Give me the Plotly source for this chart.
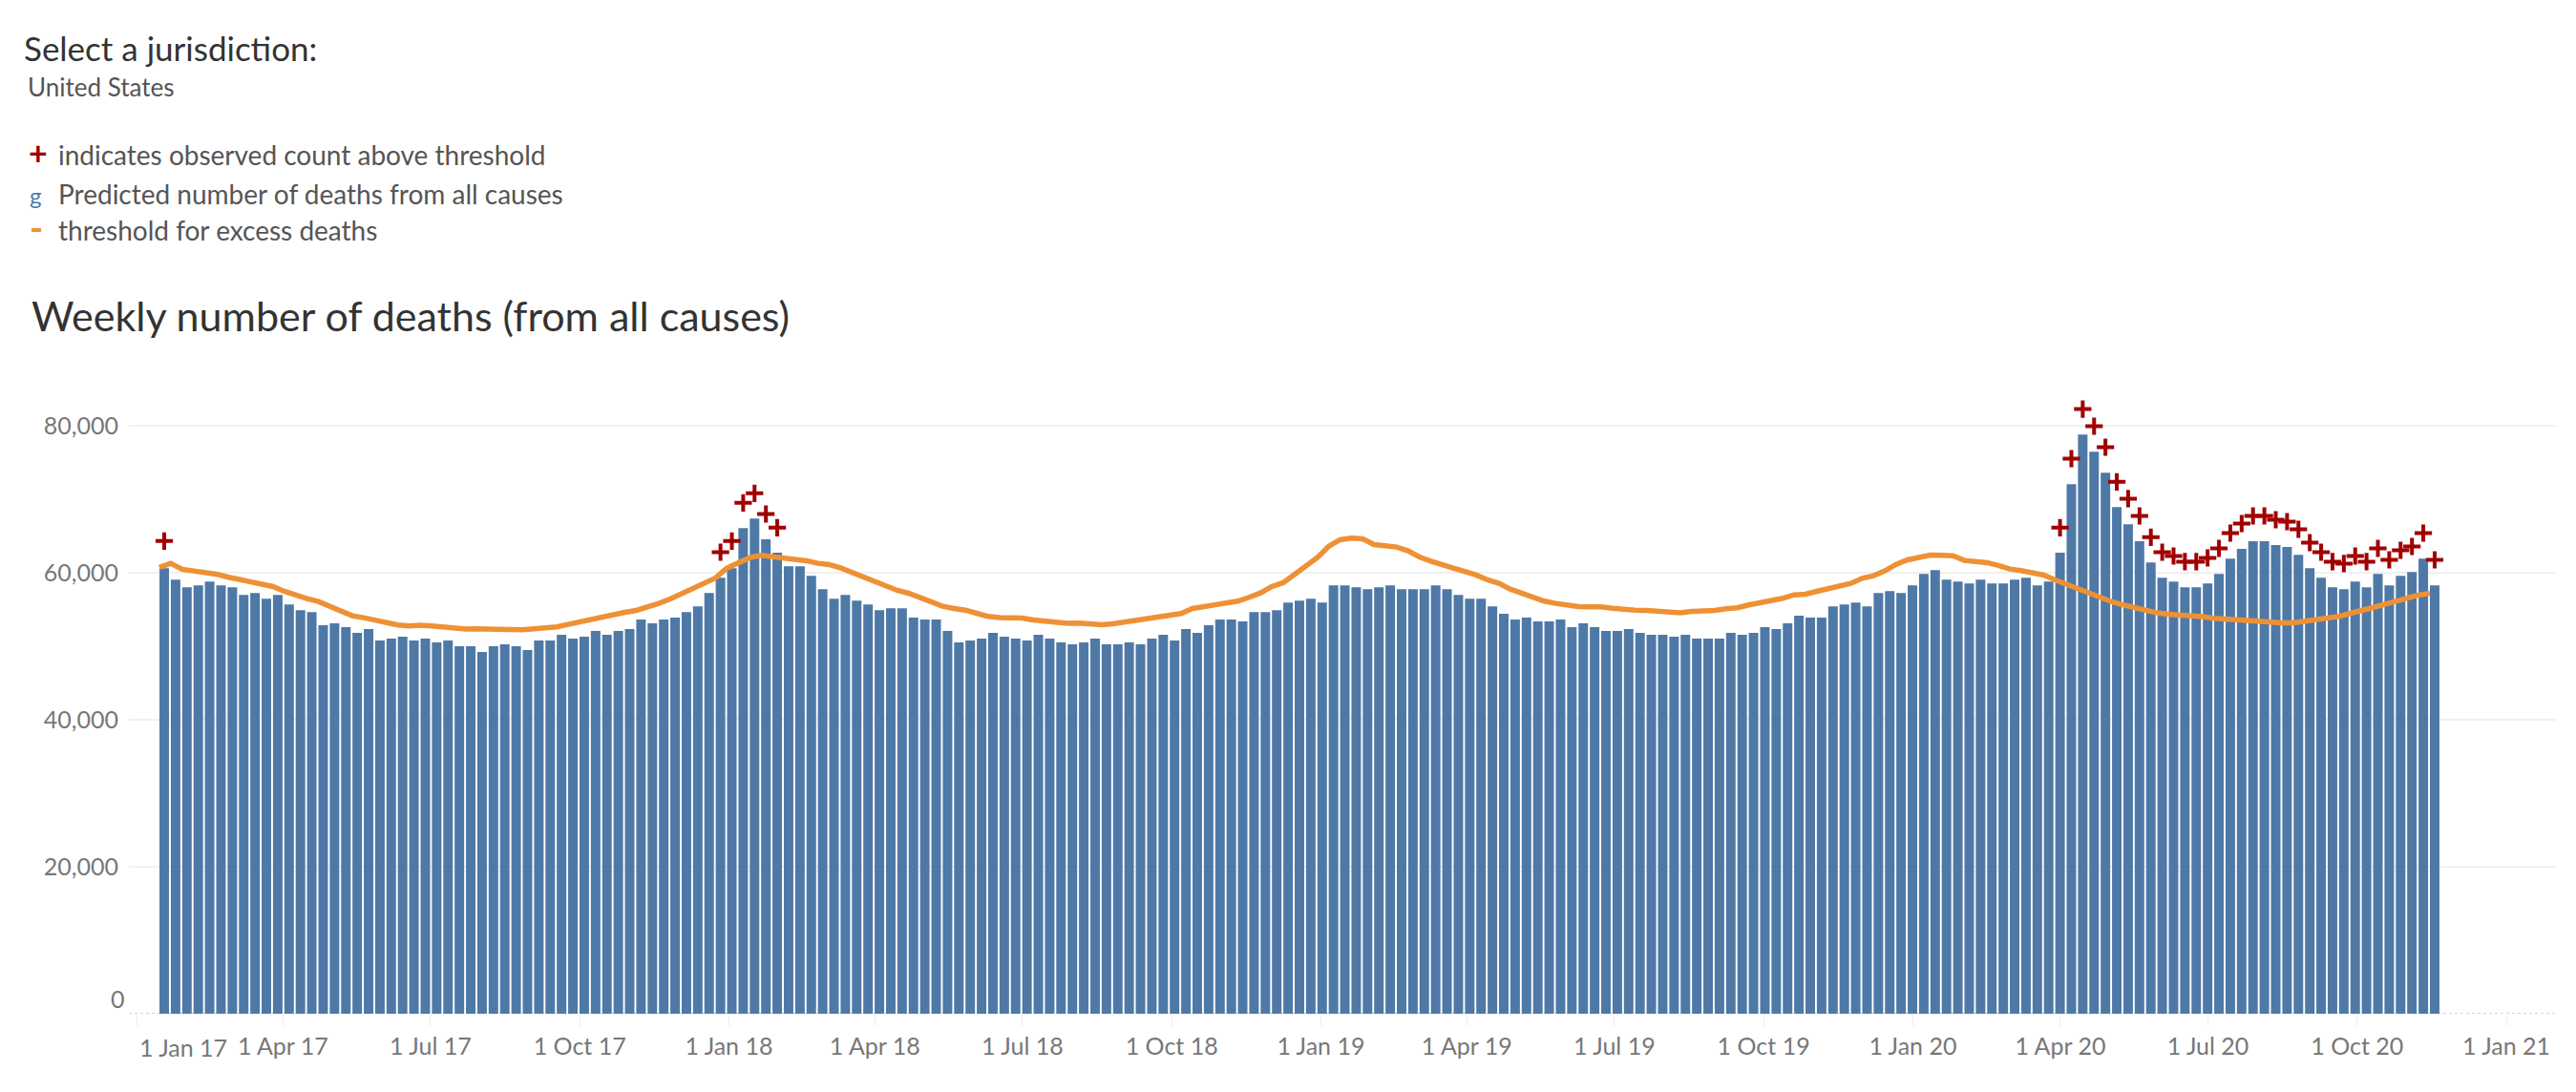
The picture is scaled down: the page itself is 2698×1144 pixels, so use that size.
import pandas as pd
import plotly.graph_objects as go

# predicted deaths, one bar per week
predicted = [
    60650, 59090, 58050, 58310, 58830, 58310, 58050, 57010, 57270, 56490,
    57010, 55710, 54930, 54670, 52860, 53120, 52600, 51820, 52340, 50780,
    51040, 51300, 50780, 51040, 50520, 50780, 50000, 50000, 49220, 50000,
    50260, 50000, 49480, 50780, 50780, 51560, 51040, 51300, 52080, 51560,
    52080, 52340, 53640, 53120, 53640, 53900, 54670, 55450, 57270, 59350,
    60650, 66100, 67400, 64550, 62730, 60910, 60910, 59610, 57790, 56490,
    57010, 56230, 55710, 54930, 55190, 55190, 53900, 53640, 53640, 52080,
    50520, 50780, 51040, 51820, 51300, 51040, 50780, 51560, 51040, 50520,
    50260, 50520, 51040, 50260, 50260, 50520, 50260, 51040, 51560, 50780,
    52340, 51820, 52860, 53640, 53640, 53380, 54670, 54670, 54930, 55970,
    56230, 56490, 55970, 58310, 58310, 58050, 57790, 58050, 58310, 57790,
    57790, 57790, 58310, 57790, 57010, 56490, 56490, 55450, 54420, 53640,
    53900, 53380, 53380, 53640, 52600, 53120, 52600, 52080, 52080, 52340,
    51820, 51560, 51560, 51300, 51560, 51040, 51040, 51040, 51820, 51560,
    51820, 52600, 52340, 53120, 54160, 53900, 53900, 55450, 55710, 55970,
    55450, 57270, 57530, 57270, 58310, 59870, 60390, 59090, 58830, 58570,
    59090, 58570, 58570, 59090, 59350, 58310, 58830, 62730, 72080, 78830,
    76490, 73640, 68960, 66620, 64290, 61430, 59350, 58830, 58050, 58050,
    58570, 59870, 61950, 63250, 64290, 64290, 63770, 63510, 62470, 60650,
    59350, 58050, 57790, 58830, 58050, 59870, 58310, 59610, 60130, 61950,
    58310,
]

# threshold for excess deaths
threshold = [
    60740, 61300, 60480, 60300, 60130, 59830, 59440, 59090, 58700, 58440,
    58140, 57490, 56930, 56490, 56100, 55450, 54630, 54160, 53900, 53550,
    53160, 52900, 52770, 52860, 52770, 52600, 52420, 52340, 52380, 52340,
    52250, 52210, 52250, 52380, 52510, 52640, 52990, 53330, 53770, 54070,
    54330, 54630, 54890, 55320, 55840, 56450, 57190, 57920, 58570, 59310,
    60650, 61300, 62080, 62380, 62210, 62030, 61950, 61650, 61300, 61130,
    60690, 60090, 59570, 58790, 58270, 57620, 57230, 56620, 55970, 55450,
    55150, 54930, 54500, 54070, 53900, 53850, 53850, 53590, 53380, 53200,
    53120, 53160, 52990, 52940, 53070, 53290, 53680, 53850, 53940, 54160,
    54460, 55150, 55370, 55580, 55840, 56150, 56670, 57270, 58140, 58660,
    59780, 61000, 62080, 63590, 64500, 64720, 64630, 63850, 63680, 63510,
    62990, 62160, 61600, 61170, 60690, 60220, 59700, 59050, 58570, 57790,
    57190, 56580, 56150, 55840, 55540, 55410, 55370, 55370, 55190, 55020,
    54930, 54890, 54760, 54630, 54550, 54760, 54800, 54890, 55110, 55240,
    55630, 55930, 56150, 56540, 57010, 57100, 57490, 57840, 58140, 58570,
    59260, 59610, 60260, 61170, 61770, 62160, 62420, 62380, 62340, 61690,
    61520, 61390, 61000, 60520, 60300, 60000, 59700, 59050, 58440, 57880,
    57320, 56620, 56060, 55630, 55240, 54760, 54550, 54370, 54290, 54240,
    54030, 53810, 53680, 53590, 53460, 53290, 53250, 53200, 53200, 53420,
    53590, 53810, 54070, 54500, 54980, 55280, 55710, 56190, 56580, 56970,
    57230,
]

# weeks where the observed count is above threshold, and that count
above_weeks = [
    0, 49, 50, 51, 52, 53, 54,
    167, 168, 169, 170, 171, 172, 173, 174, 175, 176, 177, 178, 179, 180,
    181, 182, 183, 184, 185, 186, 187, 188, 189, 190, 191, 192, 193, 194,
    195, 196, 197, 198, 199, 200,
]
above_counts = [
    64330, 62810, 64330, 69520, 70820, 68010, 66150,
    66150, 75540, 82290, 79960, 77100, 72380, 70090, 67750, 64850, 62810, 62290, 61520, 61520, 62030,
    63330, 65410, 66710, 67750, 67750, 67230, 66970, 65930, 64110, 62810, 61520, 61260, 62290, 61520,
    63330, 61770, 63070, 63590, 65410, 61770,
]

y_ticks = [20000, 40000, 60000, 80000]
y_labels = ["20,000", "40,000", "60,000", "80,000"]
x_ticks = ["2017-01-01", "2017-04-01", "2017-07-01", "2017-10-01",
           "2018-01-01", "2018-04-01", "2018-07-01", "2018-10-01",
           "2019-01-01", "2019-04-01", "2019-07-01", "2019-10-01",
           "2020-01-01", "2020-04-01", "2020-07-01", "2020-10-01", "2021-01-01"]
x_labels = ["", "1 Apr 17", "1 Jul 17", "1 Oct 17",
            "1 Jan 18", "1 Apr 18", "1 Jul 18", "1 Oct 18",
            "1 Jan 19", "1 Apr 19", "1 Jul 19", "1 Oct 19",
            "1 Jan 20", "1 Apr 20", "1 Jul 20", "1 Oct 20", "1 Jan 21"]

weeks = pd.date_range("2017-01-17 19:00", periods=len(predicted), freq="7D")
FONT = "Lato"

# page body has an 8px margin, so figure pixels = picture pixels - 8
W, H = 2682, 1128
ML, MR, MT, MB = 127, 13, 392, 74


def px(x):
    return (x - 8 - ML) / (W - ML - MR)


def py(y):
    return 1 - (y - 8 - MT) / (H - MT - MB)


def label(x, y, text, size, color, weight=400):
    return dict(x=px(x), y=py(y), xref="paper", yref="paper", text=text,
                showarrow=False, xanchor="left", yanchor="middle",
                font=dict(family=FONT, size=size, color=color, weight=weight))


fig = go.Figure()

fig.add_trace(go.Bar(x=weeks, y=predicted, marker=dict(color="#4e79a7", line_width=0),
                     name="Predicted number of deaths from all causes"))

fig.add_trace(go.Scatter(x=weeks - pd.Timedelta(days=3), y=threshold, mode="lines",
                         line=dict(color="#ee9135", width=5.5),
                         name="threshold for excess deaths"))

fig.add_trace(go.Scatter(x=[weeks[i] for i in above_weeks], y=above_counts, mode="markers",
                         marker=dict(symbol="cross-thin", size=13,
                                     line=dict(color="#a00000", width=4)),
                         name="indicates observed count above threshold"))

fig.update_layout(
    width=W, height=H,
    margin=dict(l=ML, r=MR, t=MT, b=MB),
    paper_bgcolor="white", plot_bgcolor="white",
    showlegend=False,
    bargap=0.16,
    font=dict(family=FONT),
    title=dict(text="Weekly number of deaths (from all causes)",
               x=(33 - 8) / W, xanchor="left",
               y=1 - (332 - 8) / H, yanchor="middle",
               font=dict(family=FONT, size=43, color="#333333")),
    annotations=[
        label(23, 50, "Select a jurisdiction:", 35, "#333333"),
        label(27, 91, "United States", 26, "#555555"),
        label(28, 160, "<b>+</b>", 34, "#a00000"),
        label(59, 162, "indicates observed count above threshold", 28, "#555555"),
        label(29, 204, "g", 24, "#4e79a7"),
        label(59, 203, "Predicted number of deaths from all causes", 28, "#555555"),
        label(29, 238, "<b>-</b>", 38, "#ee9135"),
        label(59, 241, "threshold for excess deaths", 28, "#555555"),
        # Tableau nudges these two labels off their ticks
        label(114, 1046, "0", 25, "#777777"),
        label(144, 1097, "1 Jan 17", 25, "#777777"),
    ],
    shapes=[dict(type="line", xref="paper", yref="y", x0=0, x1=1, y0=0, y1=0,
                 layer="below", line=dict(color="#c8c8c8", width=1.5, dash="dot"))],
)

fig.update_xaxes(
    type="date", range=["2016-12-27", "2021-01-31 14:00"],
    tickmode="array", tickvals=x_ticks, ticktext=x_labels,
    ticks="outside", ticklen=12, tickcolor="#eeeeee", tickwidth=1,
    tickangle=0, tickfont=dict(family=FONT, size=25, color="#777777"),
    showgrid=False, zeroline=False, showline=False,
)
fig.update_yaxes(
    range=[0, 86000],
    tickmode="array", tickvals=y_ticks, ticktext=y_labels,
    tickfont=dict(family=FONT, size=25, color="#777777"),
    showgrid=True, gridcolor="#f0f0f0", gridwidth=2,
    zeroline=False, showline=False,
    ticks="outside", ticklen=5, tickcolor="rgba(0,0,0,0)",
)

fig.write_html("out.html")
